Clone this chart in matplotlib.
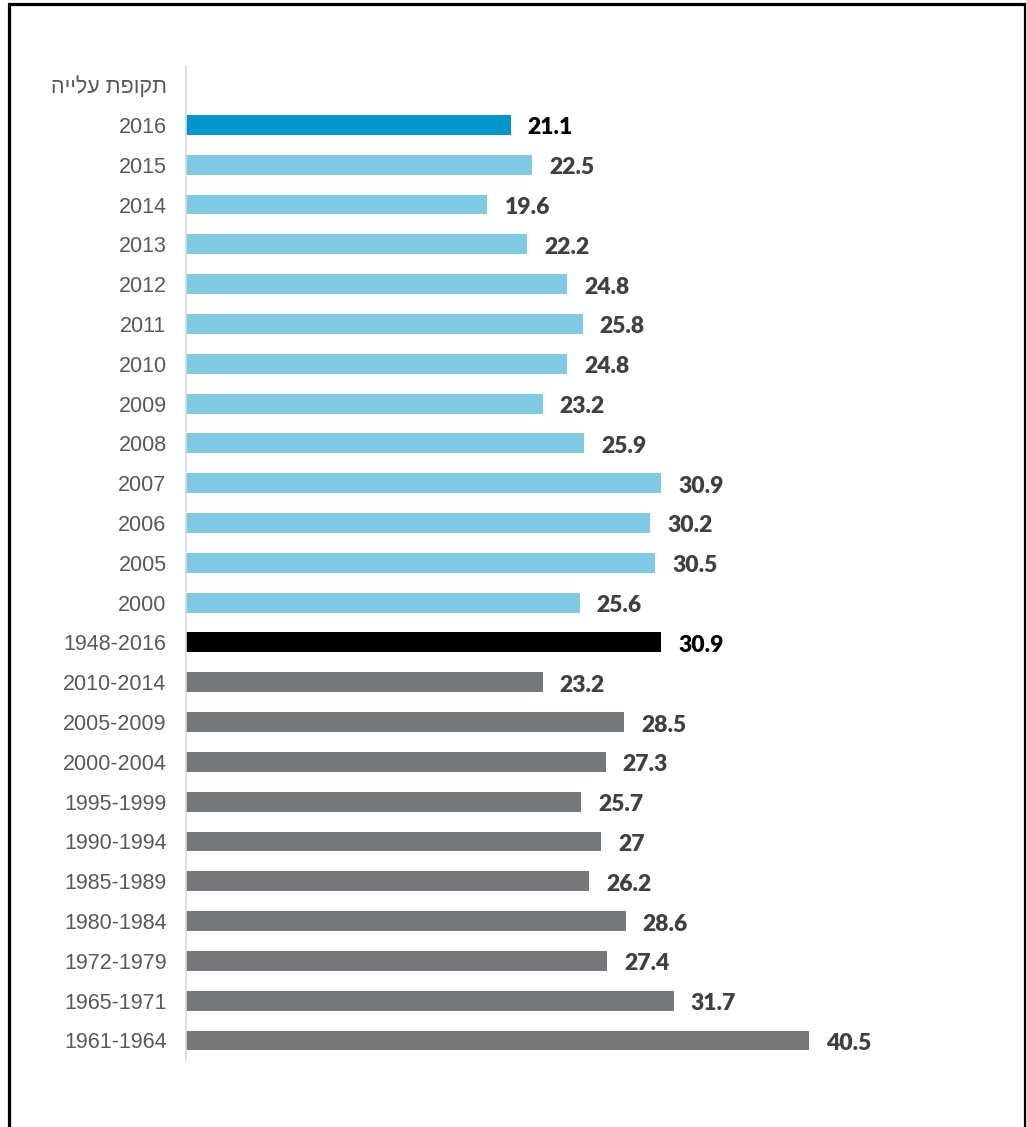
import matplotlib.pyplot as plt
from matplotlib.patches import Rectangle

plt.rcParams['font.family'] = ['Liberation Sans', 'DejaVu Sans']

header = "תקופת עלייה"
labels = ["2016", "2015", "2014", "2013", "2012", "2011", "2010", "2009",
          "2008", "2007", "2006", "2005", "2000", "1948-2016",
          "2010-2014", "2005-2009", "2000-2004", "1995-1999", "1990-1994",
          "1985-1989", "1980-1984", "1972-1979", "1965-1971", "1961-1964"]
values = [21.1, 22.5, 19.6, 22.2, 24.8, 25.8, 24.8, 23.2, 25.9, 30.9, 30.2,
          30.5, 25.6, 30.9, 23.2, 28.5, 27.3, 25.7, 27, 26.2, 28.6, 27.4,
          31.7, 40.5]
groups = ["top"] + ["year"] * 12 + ["all"] + ["period"] * 10

colors = {"top": "#0096C9", "year": "#7FC9E3", "all": "#000000", "period": "#75787B"}
label_colors = {"top": "#000000", "year": "#404040", "all": "#000000", "period": "#404040"}

W, H = 1026, 1127
fig = plt.figure(figsize=(W / 100, H / 100), dpi=100)
ax = fig.add_axes([186 / W, 1 - 1060 / H, (1000 - 186) / W, (1060 - 66) / H])

pos = list(range(1, len(values) + 1))
ax.barh(pos, values, height=0.5, color=[colors[g] for g in groups])

for p, v, g in zip(pos, values, groups):
    txt = f"{v:g}"
    ax.annotate(txt, (v, p), xytext=(17, -3), textcoords="offset pixels",
                va="center", ha="left", fontsize=16.5, fontweight="heavy",
                color=label_colors[g], family=["Lato", "DejaVu Sans"])

ax.set_yticks([0] + pos)
ax.set_yticklabels([header[::-1]] + labels, fontsize=15.5, color="#595959")
ax.tick_params(axis="y", length=0, pad=14)
ax.set_xticks([])
ax.set_xlim(0, (1000 - 186) / 15.38)
ax.set_ylim(24.49, -0.48)
for s in ["top", "right", "bottom"]:
    ax.spines[s].set_visible(False)
ax.spines["left"].set_color("#D9D9D9")
ax.spines["left"].set_linewidth(1.2)

# frame around the figure (bottom edge cut off)
fig.patches.append(Rectangle((8.5 / W, -0.05), (1024.5 - 8.5) / W, 1.05 - 4.5 / H,
                             transform=fig.transFigure, fill=False,
                             edgecolor="black", linewidth=2.3, clip_on=False))

fig.savefig("out.png", dpi=100)
